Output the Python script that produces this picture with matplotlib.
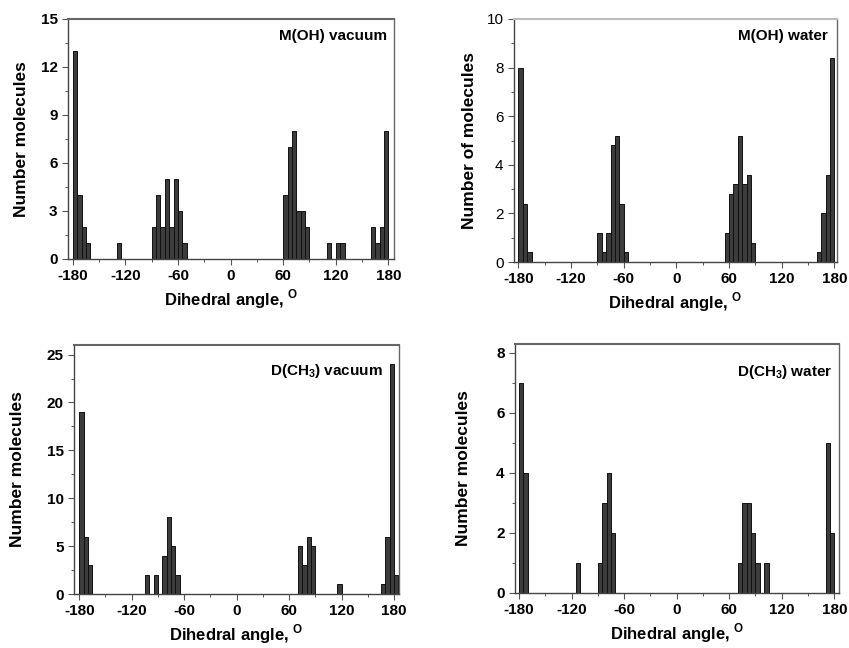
import matplotlib
matplotlib.use("Agg")
import matplotlib.pyplot as plt
from matplotlib.ticker import MultipleLocator

plt.rcParams["font.family"] = ["Liberation Sans", "DejaVu Sans"]
plt.rcParams["font.weight"] = "bold"
plt.rcParams["axes.unicode_minus"] = False
plt.rcParams["mathtext.fontset"] = "custom"
plt.rcParams["mathtext.rm"] = "Liberation Sans:bold"
plt.rcParams["mathtext.bf"] = "Liberation Sans:bold"

# left edge of each 5-degree bin and number of molecules in it
moh_vac_edges = [-180, -175, -170, -165, -130, -90, -85, -80, -75, -70, -65, -60, -55,
                 60, 65, 70, 75, 80, 85, 110, 120, 125, 160, 165, 170, 175]
moh_vac_counts = [13, 4, 2, 1, 1, 2, 4, 2, 5, 2, 5, 3, 1,
                  4, 7, 8, 3, 3, 2, 1, 1, 1, 2, 1, 2, 8]

moh_wat_edges = [-180, -175, -170, -90, -85, -80, -75, -70, -65, -60,
                 55, 60, 65, 70, 75, 80, 85, 160, 165, 170, 175]
moh_wat_counts = [8, 2.4, 0.4, 1.2, 0.4, 1.2, 4.8, 5.2, 2.4, 0.4,
                  1.2, 2.8, 3.2, 5.2, 3.2, 3.6, 0.8, 0.4, 2.0, 3.6, 8.4]

dch3_vac_edges = [-180, -175, -170, -105, -95, -85, -80, -75, -70,
                  70, 75, 80, 85, 115, 165, 170, 175, 180]
dch3_vac_counts = [19, 6, 3, 2, 2, 4, 8, 5, 2,
                   5, 3, 6, 5, 1, 1, 6, 24, 2]

dch3_wat_edges = [-180, -175, -115, -90, -85, -80, -75,
                  70, 75, 80, 85, 90, 100, 170, 175]
dch3_wat_counts = [7, 4, 1, 1, 3, 4, 2,
                   1, 3, 3, 2, 1, 1, 5, 2]

x_ticks = [-180, -120, -60, 0, 60, 120, 180]

W, H = 849, 648


def px_axes(fig, left, right, top, bottom):
    return fig.add_axes([left / W, 1 - bottom / H, (right - left) / W, (bottom - top) / H])


def draw_panel(ax, edges, counts, title, ylabel, xlim, ylim, ymajor, yminor,
               ylabel_x, title_xy, light_top=False, ytick_weight="bold"):
    ax.bar(edges, counts, width=5, align="edge", color="#3c3c3c",
           edgecolor="#111111", linewidth=0.7, zorder=2)
    ax.set_xlim(*xlim)
    ax.set_ylim(*ylim)
    ax.set_xticks(x_ticks)
    ax.xaxis.set_minor_locator(MultipleLocator(30))
    ax.yaxis.set_major_locator(MultipleLocator(ymajor))
    ax.yaxis.set_minor_locator(MultipleLocator(yminor))
    ax.tick_params(which="major", direction="out", length=4, width=0.8,
                   color="#555555", labelsize=11)
    ax.tick_params(which="minor", direction="out", length=2.5, width=0.7, color="#555555")
    for lab in ax.get_xticklabels():
        lab.set_fontweight("bold")
    for lab in ax.get_yticklabels():
        lab.set_fontweight(ytick_weight)
    for side in ("left", "bottom"):
        ax.spines[side].set_color("#444444")
        ax.spines[side].set_linewidth(1.0)
    ax.spines["right"].set_color("#666666")
    ax.spines["top"].set_color("#bbbbbb" if light_top else "#666666")
    ax.spines["top"].set_linewidth(1.5)
    ax.spines["right"].set_linewidth(1.0)
    ax.set_xlabel(r"Dihedral angle, $^{\mathrm{O}}$", fontsize=12, fontweight="bold", labelpad=3)
    ax.set_ylabel(ylabel, fontsize=12.5, fontweight="bold")
    ax.yaxis.set_label_coords(ylabel_x, 0.5)
    ax.text(title_xy[0], title_xy[1], title, transform=ax.transAxes,
            ha="right", va="top", fontsize=11, fontweight="bold")


fig = plt.figure(figsize=(W / 100, H / 100), dpi=100, facecolor="white")

ax1 = px_axes(fig, 68, 394, 19, 259)
draw_panel(ax1, moh_vac_edges, moh_vac_counts, "M(OH) vacuum", "Number molecules",
           (-185.4, 186.4), (0, 15), 3, 1.5, -0.12, (0.98, 0.96))

ax2 = px_axes(fig, 514, 837, 19, 262)
draw_panel(ax2, moh_wat_edges, moh_wat_counts, "M(OH) water", "Number of molecules",
           (-185, 183), (0, 10), 2, 1, -0.115, (0.97, 0.96),
           light_top=True, ytick_weight="normal")

ax3 = px_axes(fig, 74, 399, 345, 594)
draw_panel(ax3, dch3_vac_edges, dch3_vac_counts, r"D(CH$_{3}$) vacuum", "Number molecules",
           (-186, 185.7), (0, 26), 5, 2.5, -0.15, (0.95, 0.93))

ax4 = px_axes(fig, 515, 839, 344, 593)
draw_panel(ax4, dch3_wat_edges, dch3_wat_counts, r"D(CH$_{3}$) water", "Number molecules",
           (-184.6, 185.4), (0, 8.3), 2, 1, -0.137, (0.98, 0.925))

fig.savefig("out.png", dpi=100, facecolor="white")
